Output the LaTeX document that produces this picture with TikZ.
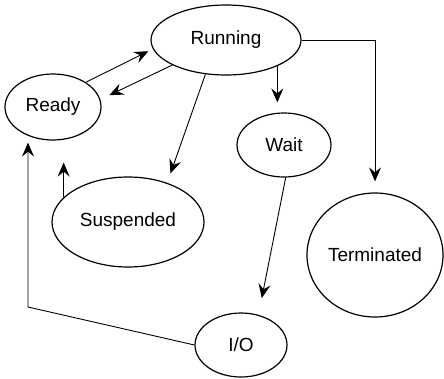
\documentclass[tikz,border=0pt]{standalone}
\usepackage{fontspec}
\setmainfont{Liberation Sans}
\usetikzlibrary{shapes.geometric,arrows.meta}
\begin{document}
\begin{tikzpicture}[x=1pt,y=-1pt,
  state/.style={draw, ellipse, line width=1.2pt, inner sep=0pt, font=\fontsize{19}{22}\selectfont},
  conn/.style={line width=0.9pt, -{Stealth[length=14pt,width=12pt,inset=5pt]}}]
\useasboundingbox (0,0) rectangle (444,378);
\node[state, minimum width=150pt, minimum height=70pt] (running) at (226,40) {Running};
\node[state, minimum width=96pt, minimum height=66pt] (ready) at (53,107) {Ready};
\node[state, minimum width=94pt, minimum height=64pt] (wait) at (284,145) {Wait};
\node[state, minimum width=152pt, minimum height=90pt] (susp) at (128,222) {Suspended};
\node[state, minimum width=136pt, minimum height=124pt] (term) at (375,255) {Terminated};
\node[state, minimum width=92pt, minimum height=64pt] (io) at (241,345) {I/O};
\coordinate (c1) at (28,307);
% Ready <-> Running
\draw[conn, shorten >=5pt] (ready.37) -- (running.187);
\draw[conn, shorten >=10pt] (running.205) -- (ready.9);
% Running -> Suspended
\draw[conn, shorten >=10pt] (running.239) -- (susp.45);
% Running -> Wait
\draw[conn, shorten >=10pt] (running.-27.6) -- (running.-27.6 |- wait.north);
% Running -> Terminated
\draw[conn, shorten >=11pt] (running.east) -| (term.north);
% Wait -> I/O
\draw[conn, shorten >=17pt] (wait.-87) -- (io.60);
% I/O -> Ready
\draw[conn, shorten >=2pt] (io.west) -- (c1) -- (c1 |- ready.south);
% Suspended -> Ready
\draw[conn, shorten >=22pt] (susp.159.2) -- (susp.159.2 |- ready.south);
\end{tikzpicture}
\end{document}
